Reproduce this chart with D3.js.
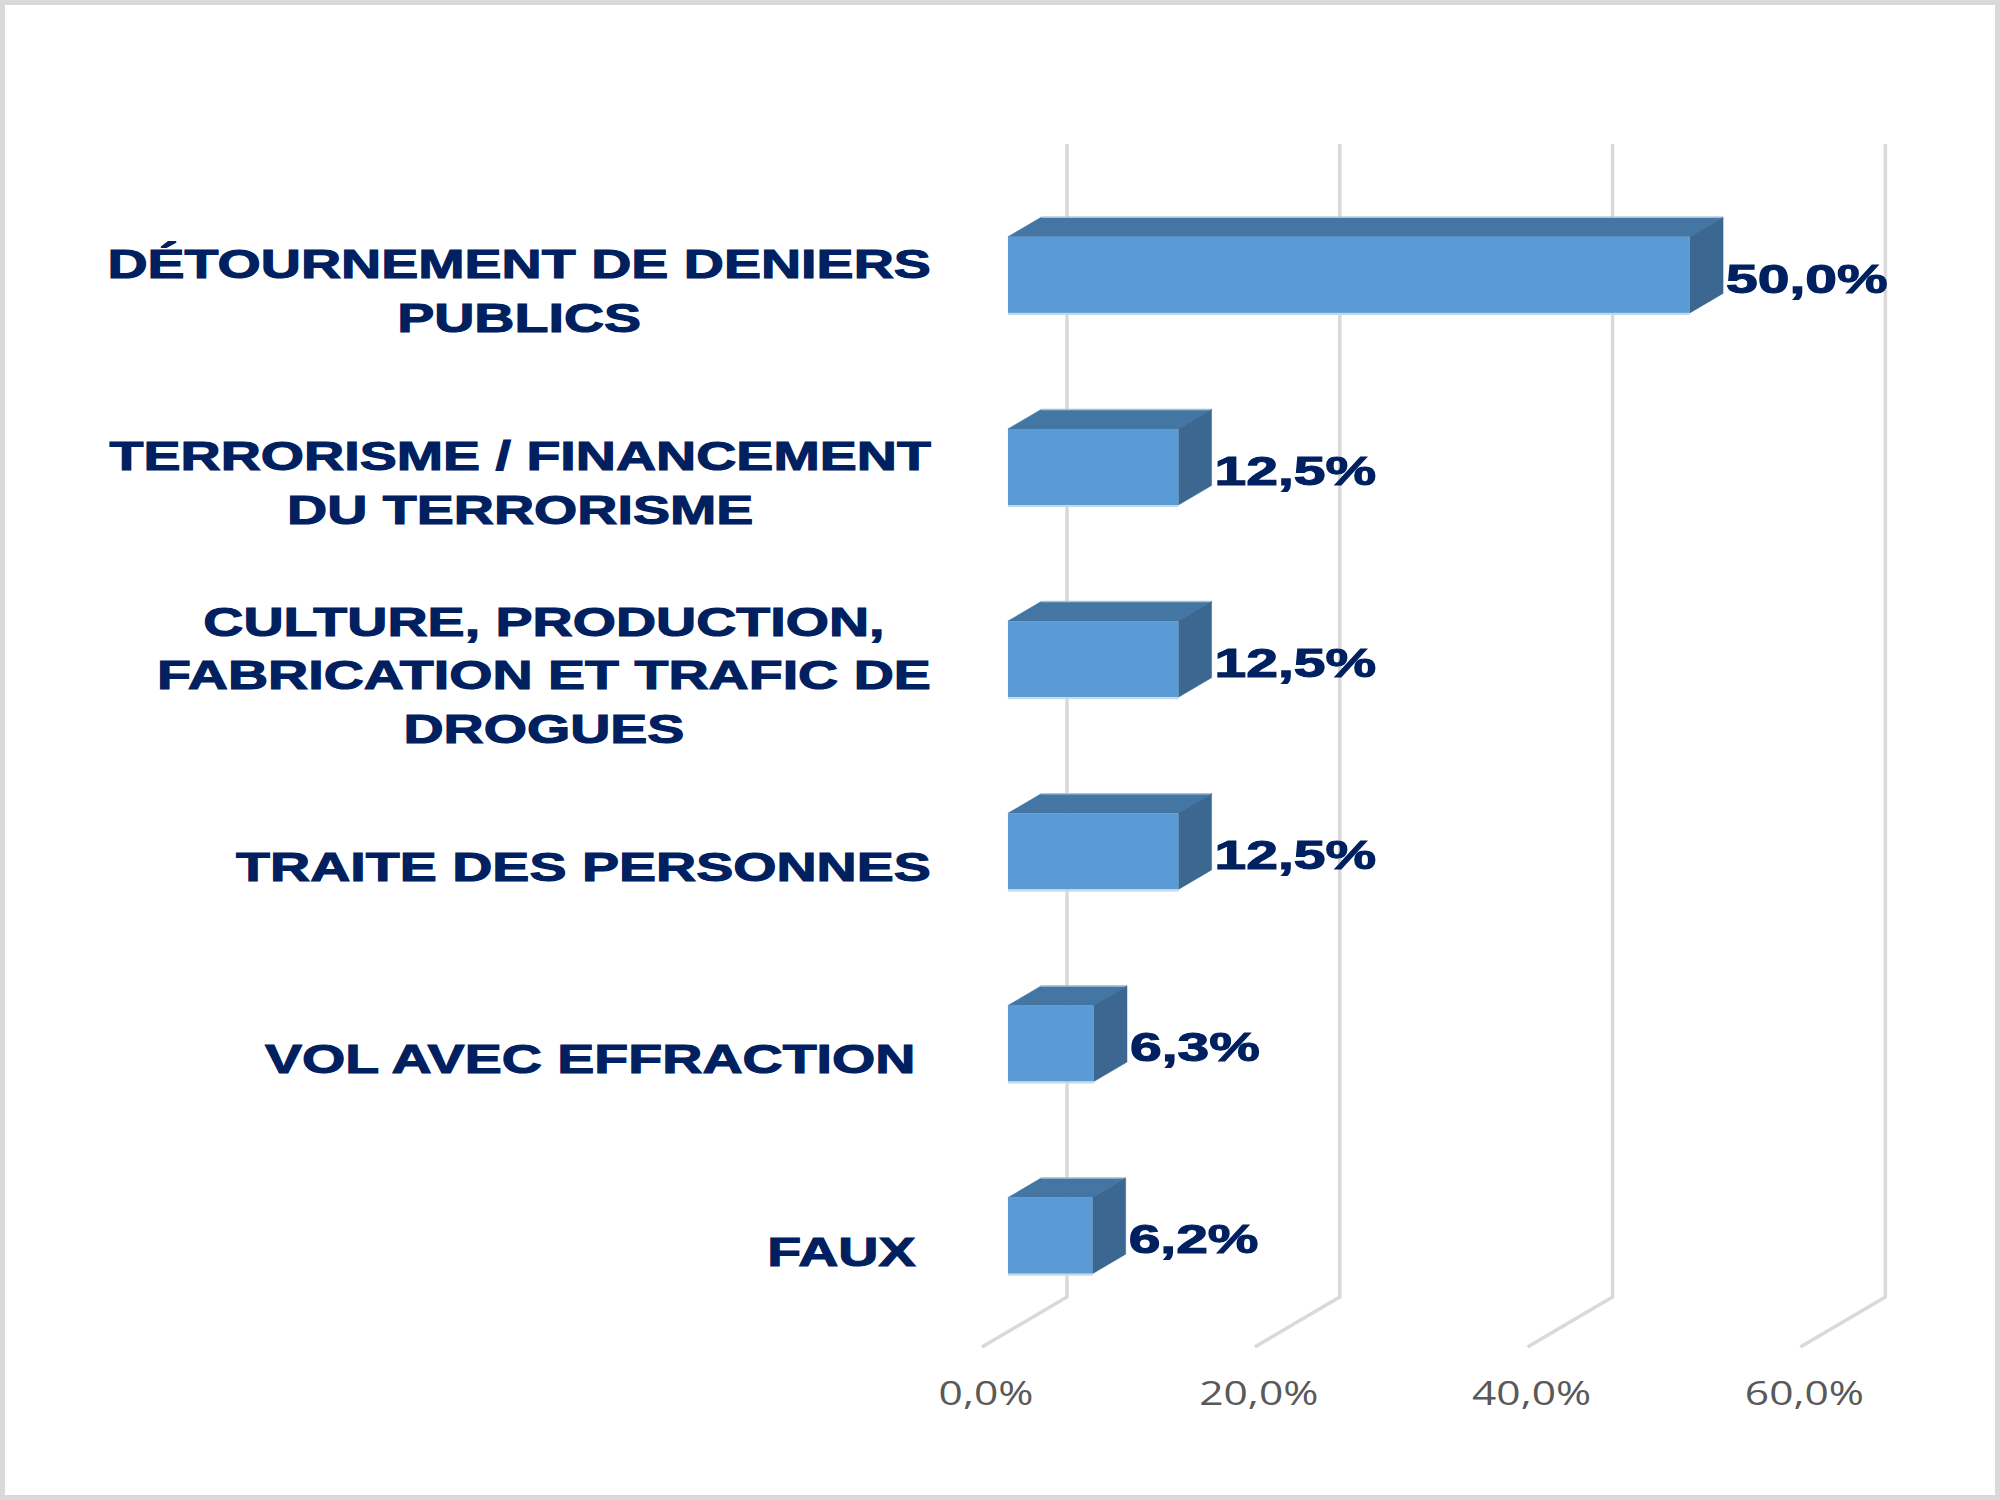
<!DOCTYPE html>
<html>
<head>
<meta charset="utf-8">
<script src="https://cdn.jsdelivr.net/npm/d3@7"></script>
<style>
  html, body { margin: 0; padding: 0; background: #fff; }
  svg text { white-space: pre; }
</style>
</head>
<body>
<svg id="chart" width="2000" height="1500"></svg>
<script>
// data
const categories = [
  "DÉTOURNEMENT DE DENIERS\nPUBLICS",
  "TERRORISME / FINANCEMENT\nDU TERRORISME",
  "CULTURE, PRODUCTION,\nFABRICATION ET TRAFIC DE\nDROGUES",
  "TRAITE DES PERSONNES",
  "VOL AVEC EFFRACTION ",
  "FAUX "
];
const values = [50.0, 12.5, 12.5, 12.5, 6.3, 6.2];
const xTicks = [0, 20, 40, 60];

const W = 2000, H = 1500;
const svg = d3.select("#chart");

// french number format "12,5%"
const fr = d3.formatLocale({ decimal: ",", thousands: " ", grouping: [3], currency: ["", " €"] });
const pct = v => fr.format(".1f")(v) + "%";

// 3d box : depth vector of the whole plot, bar sits in the middle of it
const depth = { dx: 85, dy: -50 };
const gapFrac = 0.305, barFrac = 0.39;
const off = { dx: depth.dx * gapFrac, dy: depth.dy * gapFrac };
const bd = { dx: depth.dx * barFrac, dy: depth.dy * barFrac };

// scales in the front plane
const x = d3.scaleLinear().domain([0, 60]).range([982, 982 + 60 * 13.64]);
const y = d3.scaleBand()
  .domain(categories)
  .range([194, 1347])
  .paddingInner(0.604)
  .paddingOuter(0.302);

// outer border
svg.append("rect")
  .attr("x", 2.5).attr("y", 2.5)
  .attr("width", W - 5).attr("height", H - 5)
  .attr("fill", "#fff")
  .attr("stroke", "#d9d9d9")
  .attr("stroke-width", 5);

// gridlines : back wall + floor
const floorY = y.range()[1];
const topY = y.range()[0];
svg.append("g")
  .selectAll("path")
  .data(xTicks)
  .enter()
  .append("path")
  .attr("d", t => `M${x(t) + depth.dx},${topY + depth.dy}L${x(t) + depth.dx},${floorY + depth.dy}L${x(t)},${floorY}`)
  .attr("fill", "none")
  .attr("stroke", "#d9d9d9")
  .attr("stroke-width", 3.5);

// tick labels (calibri-like, stretched)
const tickSx = 1.33;
svg.append("g")
  .selectAll("g")
  .data(xTicks)
  .enter()
  .append("g")
  .attr("transform", t => `translate(${x(t) + 4},1405) scale(${tickSx},1)`)
  .append("text")
  .attr("text-anchor", "middle")
  .style("font-family", "'Open Sans', sans-serif")
  .style("font-size", "32px")
  .attr("fill", "#595959")
  .text(t => pct(t));

// bars
const bars = svg.append("g")
  .selectAll("g")
  .data(categories.map((c, i) => ({ c, v: values[i] })))
  .enter()
  .append("g");

bars.append("path")
  .attr("d", d => {
    const x0 = x(0) + off.dx, x1 = x(d.v) + off.dx, y0 = y(d.c) + off.dy;
    return `M${x0},${y0}L${x1},${y0}L${x1 + bd.dx},${y0 + bd.dy}L${x0 + bd.dx},${y0 + bd.dy}Z`;
  })
  .attr("fill", "#4376a2")
  .attr("stroke", "#4376a2")
  .attr("stroke-width", 0.5);

// light back edge of the top face
bars.append("line")
  .attr("x1", d => x(0) + off.dx + bd.dx)
  .attr("x2", d => x(d.v) + off.dx + bd.dx)
  .attr("y1", d => y(d.c) + off.dy + bd.dy)
  .attr("y2", d => y(d.c) + off.dy + bd.dy)
  .attr("stroke", "#a9c1d9")
  .attr("stroke-width", 1.5);

bars.append("path")
  .attr("d", d => {
    const x1 = x(d.v) + off.dx, y0 = y(d.c) + off.dy, y1 = y0 + y.bandwidth();
    return `M${x1},${y0}L${x1 + bd.dx},${y0 + bd.dy}L${x1 + bd.dx},${y1 + bd.dy}L${x1},${y1}Z`;
  })
  .attr("fill", "#3b6790")
  .attr("stroke", "#3b6790")
  .attr("stroke-width", 0.5);

bars.append("rect")
  .attr("x", x(0) + off.dx)
  .attr("y", d => y(d.c) + off.dy)
  .attr("width", d => x(d.v) - x(0))
  .attr("height", y.bandwidth())
  .attr("fill", "#5b9bd5");

// thin light edge under the front face
bars.append("line")
  .attr("x1", x(0) + off.dx)
  .attr("x2", d => x(d.v) + off.dx)
  .attr("y1", d => y(d.c) + off.dy + y.bandwidth() + 1)
  .attr("y2", d => y(d.c) + off.dy + y.bandwidth() + 1)
  .attr("stroke", "#c9d8e8")
  .attr("stroke-width", 2);

// arial bold, stretched like the picture, a bit heavier with a stroke
const fs = 41, capHalf = fs * 0.358;
const navy = "#002060";

// value labels
bars.append("g")
  .attr("transform", d => {
    const cy = y(d.c) + off.dy + y.bandwidth() / 2 + 3;
    return `translate(${x(d.v) + off.dx + bd.dx + 3},${cy + capHalf}) scale(1.39,1)`;
  })
  .append("text")
  .style("font-family", "'Liberation Sans', Arial, sans-serif")
  .style("font-weight", "700")
  .style("font-size", fs + "px")
  .attr("fill", navy)
  .attr("stroke", navy)
  .attr("stroke-width", 1.1)
  .text(d => pct(d.v));

// category labels : block right aligned, lines centred in it
const sx = 1.356;
const labelRight = 931, lineH = 53.5;
categories.forEach(c => {
  const lines = c.split("\n");
  const cy = y(c) + y.bandwidth() / 2;
  const g = svg.append("g");
  const texts = lines.map((ln, i) =>
    g.append("text")
      .attr("xml:space", "preserve")
      .attr("text-anchor", "middle")
      .style("font-family", "'Liberation Sans', Arial, sans-serif")
      .style("font-weight", "700")
      .style("font-size", fs + "px")
      .attr("fill", navy)
      .attr("stroke", navy)
      .attr("stroke-width", 1.1)
      .text(ln)
  );
  const maxW = d3.max(texts, t => t.node().getComputedTextLength()) * sx;
  const cx = labelRight - maxW / 2;
  texts.forEach((t, i) => {
    const lineCy = cy + (i - (lines.length - 1) / 2) * lineH;
    t.attr("transform", `translate(${cx},${lineCy + capHalf}) scale(${sx},1)`);
  });
});
</script>
</body>
</html>
